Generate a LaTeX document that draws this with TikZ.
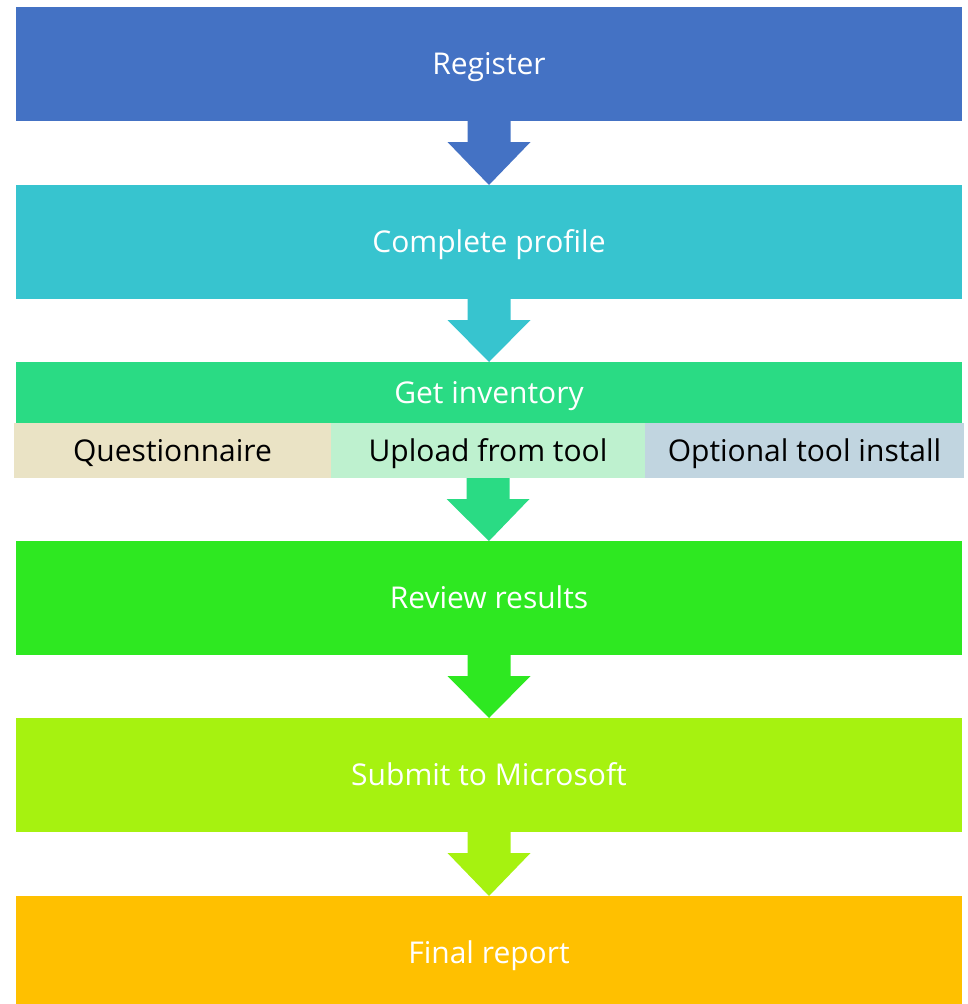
\documentclass[tikz,border=0pt]{standalone}
\usepackage{fontspec}
\setmainfont{Open Sans}
\usetikzlibrary{calc}
\definecolor{cReg}{HTML}{4472C4}
\definecolor{cProf}{HTML}{37C4CF}
\definecolor{cInv}{HTML}{2ADB84}
\definecolor{cRev}{HTML}{2EE821}
\definecolor{cSub}{HTML}{A6F210}
\definecolor{cFin}{HTML}{FFC000}
\definecolor{cQ}{HTML}{EAE3C5}
\definecolor{cU}{HTML}{BEF1CF}
\definecolor{cO}{HTML}{C1D5E0}
\tikzset{
  stepbox/.style={anchor=north west, inner sep=0pt, outer sep=0pt, minimum width=946pt, minimum height=114pt, text=white, font=\fontsize{30}{36}\selectfont, text height=21pt, text depth=0pt},
  subbox/.style={anchor=north west, inner sep=0pt, outer sep=0pt, minimum height=55pt, text=black, font=\fontsize{30}{36}\selectfont, text height=21pt, text depth=0pt},
}
\newcommand{\flowarrow}[3]{%
  \fill[#3] ($(#1.south)+(-21.5pt,0)$) -- ($(#1.south)+(21.5pt,0)$) -- ($(#1.south)+(21.5pt,-21pt)$)
    -- ($(#1.south)+(41.5pt,-21pt)$) -- (#2.north) -- ($(#1.south)+(-41.5pt,-21pt)$)
    -- ($(#1.south)+(-21.5pt,-21pt)$) -- cycle;}
\begin{document}
\begin{tikzpicture}[x=1pt,y=-1pt]
\useasboundingbox (0,0) rectangle (967,1004);
\clip (0,0) rectangle (967,1004);
\node[stepbox, fill=cReg] (reg) at (16,7) {Register};
\node[stepbox, fill=cProf] (prof) at (16,185) {Complete profile};
\node[stepbox, fill=cInv, minimum height=61pt] (invh) at (16,362) {Get inventory};
\node[subbox, fill=cQ, minimum width=317pt] (q) at (14,423) {Questionnaire};
\node[subbox, fill=cU, minimum width=314pt] (u) at (331,423) {Upload from tool};
\node[subbox, fill=cO, minimum width=319pt] (o) at (645,423) {Optional tool install};
\node[stepbox, fill=cRev] (rev) at (16,541) {Review results};
\node[stepbox, fill=cSub] (sub) at (16,718) {Submit to Microsoft};
\node[stepbox, fill=cFin] (fin) at (16,896) {Final report};
\flowarrow{reg}{prof}{cReg}
\flowarrow{prof}{invh}{cProf}
\flowarrow{u}{rev}{cInv}
\flowarrow{rev}{sub}{cRev}
\flowarrow{sub}{fin}{cSub}
\end{tikzpicture}
\end{document}
